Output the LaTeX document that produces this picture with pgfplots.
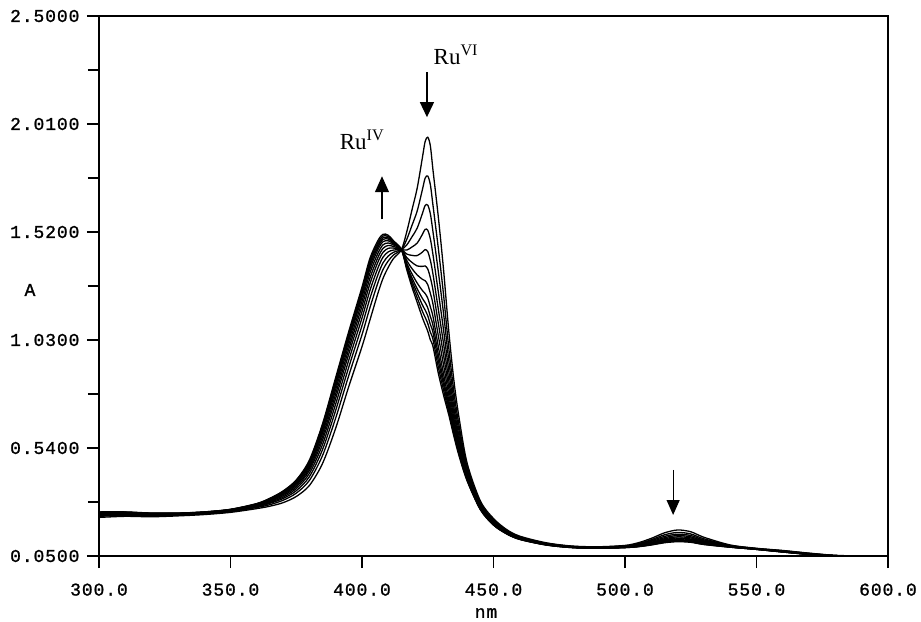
\documentclass[border=0pt]{standalone}
\usepackage{fontspec}
\setmainfont{Liberation Serif}
\newfontfamily\plotfont[LetterSpace=5,FakeBold=1.2]{Liberation Mono}
\usepackage{pgfplots}
\pgfplotsset{compat=1.18}
\usepackage{pgfplotstable}
\usetikzlibrary{arrows.meta}

% absorbance spectra, c0 = start (Ru VI) ... c11 = end (Ru IV)
\pgfplotstableread{
nm c0 c1 c2 c3 c4 c5 c6 c7 c8 c9 c10 c11
300 0.225 0.230 0.234 0.237 0.240 0.242 0.244 0.246 0.247 0.248 0.249 0.250
310 0.230 0.234 0.237 0.240 0.242 0.244 0.245 0.247 0.248 0.248 0.249 0.250
320 0.228 0.231 0.234 0.236 0.238 0.240 0.241 0.242 0.243 0.244 0.244 0.245
330 0.232 0.235 0.237 0.238 0.240 0.241 0.242 0.243 0.243 0.244 0.244 0.245
340 0.238 0.240 0.242 0.244 0.245 0.246 0.247 0.248 0.249 0.249 0.250 0.250
350 0.248 0.251 0.253 0.255 0.256 0.258 0.259 0.260 0.260 0.261 0.261 0.262
360 0.265 0.270 0.273 0.276 0.279 0.281 0.282 0.284 0.285 0.286 0.287 0.288
365 0.276 0.283 0.289 0.293 0.297 0.300 0.303 0.306 0.308 0.309 0.311 0.312
370 0.292 0.303 0.311 0.317 0.323 0.328 0.332 0.336 0.339 0.341 0.343 0.345
375 0.320 0.335 0.346 0.356 0.364 0.371 0.377 0.382 0.386 0.389 0.392 0.395
380 0.370 0.393 0.410 0.425 0.438 0.448 0.457 0.465 0.471 0.476 0.480 0.485
385 0.470 0.506 0.533 0.556 0.576 0.592 0.607 0.619 0.628 0.636 0.643 0.650
390 0.630 0.676 0.711 0.740 0.766 0.786 0.805 0.821 0.832 0.842 0.851 0.860
395 0.820 0.870 0.908 0.940 0.968 0.990 1.010 1.028 1.040 1.050 1.060 1.070
400 1.000 1.054 1.095 1.130 1.159 1.184 1.205 1.224 1.238 1.248 1.259 1.270
403 1.120 1.176 1.218 1.254 1.285 1.310 1.333 1.352 1.366 1.378 1.389 1.400
406 1.240 1.288 1.324 1.355 1.382 1.403 1.422 1.439 1.451 1.461 1.470 1.480
408 1.310 1.350 1.380 1.406 1.428 1.446 1.462 1.476 1.486 1.494 1.502 1.510
410 1.360 1.389 1.411 1.430 1.446 1.459 1.470 1.480 1.488 1.493 1.499 1.505
412 1.400 1.416 1.428 1.438 1.447 1.454 1.461 1.466 1.470 1.474 1.477 1.480
415 1.440 1.440 1.440 1.440 1.440 1.440 1.440 1.440 1.440 1.440 1.440 1.440
417 1.520 1.486 1.461 1.438 1.420 1.404 1.391 1.379 1.370 1.364 1.357 1.350
419 1.620 1.550 1.498 1.452 1.414 1.382 1.354 1.330 1.312 1.298 1.284 1.270
421 1.720 1.616 1.538 1.470 1.413 1.366 1.325 1.288 1.262 1.242 1.221 1.200
423 1.860 1.714 1.605 1.510 1.429 1.364 1.305 1.254 1.218 1.188 1.159 1.130
424 1.930 1.764 1.640 1.532 1.440 1.366 1.299 1.241 1.200 1.166 1.133 1.100
425 1.950 1.774 1.642 1.528 1.431 1.352 1.281 1.220 1.176 1.140 1.105 1.070
426 1.910 1.734 1.602 1.488 1.391 1.312 1.241 1.180 1.136 1.100 1.065 1.030
427 1.800 1.640 1.520 1.416 1.328 1.256 1.192 1.136 1.096 1.064 1.032 1.000
429 1.590 1.448 1.342 1.249 1.171 1.107 1.050 1.001 0.965 0.937 0.908 0.880
431 1.350 1.236 1.151 1.076 1.014 0.962 0.917 0.877 0.848 0.826 0.803 0.780
433 1.070 0.994 0.937 0.888 0.846 0.812 0.781 0.755 0.736 0.720 0.705 0.690
435 0.840 0.790 0.753 0.720 0.693 0.670 0.650 0.633 0.620 0.610 0.600 0.590
437 0.670 0.636 0.611 0.588 0.570 0.554 0.541 0.529 0.520 0.514 0.507 0.500
440 0.470 0.454 0.442 0.432 0.423 0.416 0.409 0.404 0.400 0.396 0.393 0.390
445 0.300 0.292 0.286 0.281 0.276 0.273 0.270 0.267 0.265 0.263 0.262 0.260
450 0.220 0.214 0.210 0.206 0.202 0.200 0.197 0.195 0.194 0.192 0.191 0.190
455 0.170 0.166 0.163 0.160 0.158 0.156 0.155 0.153 0.152 0.152 0.151 0.150
460 0.140 0.137 0.135 0.133 0.131 0.130 0.129 0.128 0.127 0.126 0.126 0.125
470 0.110 0.108 0.107 0.105 0.104 0.103 0.102 0.102 0.101 0.101 0.100 0.100
480 0.095 0.094 0.093 0.092 0.091 0.090 0.090 0.089 0.089 0.089 0.088 0.088
490 0.092 0.091 0.090 0.089 0.088 0.087 0.087 0.086 0.086 0.086 0.085 0.085
500 0.098 0.096 0.095 0.093 0.092 0.091 0.090 0.090 0.089 0.089 0.088 0.088
505 0.110 0.106 0.104 0.101 0.099 0.098 0.096 0.095 0.094 0.093 0.093 0.092
510 0.130 0.124 0.120 0.116 0.112 0.110 0.107 0.105 0.104 0.102 0.101 0.100
515 0.155 0.146 0.139 0.133 0.128 0.124 0.121 0.118 0.115 0.114 0.112 0.110
520 0.168 0.157 0.149 0.143 0.137 0.132 0.128 0.124 0.121 0.119 0.117 0.115
525 0.160 0.150 0.143 0.137 0.132 0.127 0.124 0.120 0.118 0.116 0.114 0.112
530 0.135 0.128 0.123 0.119 0.116 0.113 0.110 0.108 0.106 0.105 0.103 0.102
540 0.100 0.098 0.097 0.095 0.094 0.093 0.092 0.092 0.091 0.091 0.090 0.090
550 0.085 0.084 0.083 0.083 0.082 0.082 0.081 0.081 0.081 0.080 0.080 0.080
560 0.075 0.074 0.073 0.072 0.071 0.070 0.070 0.069 0.069 0.069 0.068 0.068
570 0.063 0.062 0.061 0.060 0.059 0.059 0.058 0.058 0.058 0.057 0.057 0.057
580 0.053 0.052 0.052 0.052 0.051 0.051 0.051 0.051 0.050 0.050 0.050 0.050
590 0.050 0.049 0.049 0.049 0.048 0.048 0.048 0.048 0.047 0.047 0.047 0.047
600 0.048 0.048 0.047 0.047 0.047 0.047 0.046 0.046 0.046 0.046 0.046 0.046
}\spectra

\begin{document}
\begin{tikzpicture}
\begin{axis}[
    name=ax,
    scale only axis, width=789pt, height=540pt,
    xmin=300, xmax=600, ymin=0.05, ymax=2.5,
    xtick={300,350,...,600},
    xticklabels={300.0,350.0,400.0,450.0,500.0,550.0,600.0},
    ytick={0.05,0.54,1.03,1.52,2.01,2.5},
    yticklabels={0.0500,0.5400,1.0300,1.5200,2.0100,2.5000},
    minor ytick={0.295,0.785,1.275,1.765,2.255},
    tick align=outside, tick pos=left,
    major tick length=12pt, minor tick length=11pt,
    every tick/.style={black, line width=1.3pt},
    axis line style={line width=1.2pt},
    tick label style={font=\plotfont\fontsize{18}{18}\selectfont},
    xticklabel style={yshift=-12pt},
    yticklabel style={xshift=-4pt},
    label style={font=\plotfont\fontsize{18}{18}\selectfont},
    xlabel={nm}, ylabel={A},
    xlabel style={at={(axis description cs:0.4905,-0.1056)}, anchor=center},
    ylabel style={at={(axis description cs:-0.0875,0.4926)}, anchor=center, rotate=-90},
  ]
  \pgfplotsinvokeforeach{0,...,11}{
    \addplot[black, line width=1.3pt, smooth] table[x=nm, y=c#1] {\spectra};
  }
  \draw[-{Triangle[width=14pt,length=16pt]}, line width=1.2pt]
    (axis cs:407.6,1.577) -- (axis cs:407.6,1.773);
  \draw[-{Triangle[width=14pt,length=15pt]}, line width=1.2pt]
    (axis cs:424.7,2.245) -- (axis cs:424.7,2.041);
  \draw[-{Triangle[width=13pt,length=15pt]}, line width=1.2pt]
    (axis cs:518.3,0.441) -- (axis cs:518.3,0.236);
  \node[anchor=base, font=\fontsize{23}{23}\selectfont] at (axis cs:400.0,1.895) {Ru\textsuperscript{IV}};
  \node[anchor=base, font=\fontsize{23}{23}\selectfont] at (axis cs:435.7,2.282) {Ru\textsuperscript{VI}};
\end{axis}
\path ([xshift=-99pt,yshift=-64pt]ax.south west) rectangle ([xshift=33pt,yshift=16pt]ax.north east);
\end{tikzpicture}
\end{document}
